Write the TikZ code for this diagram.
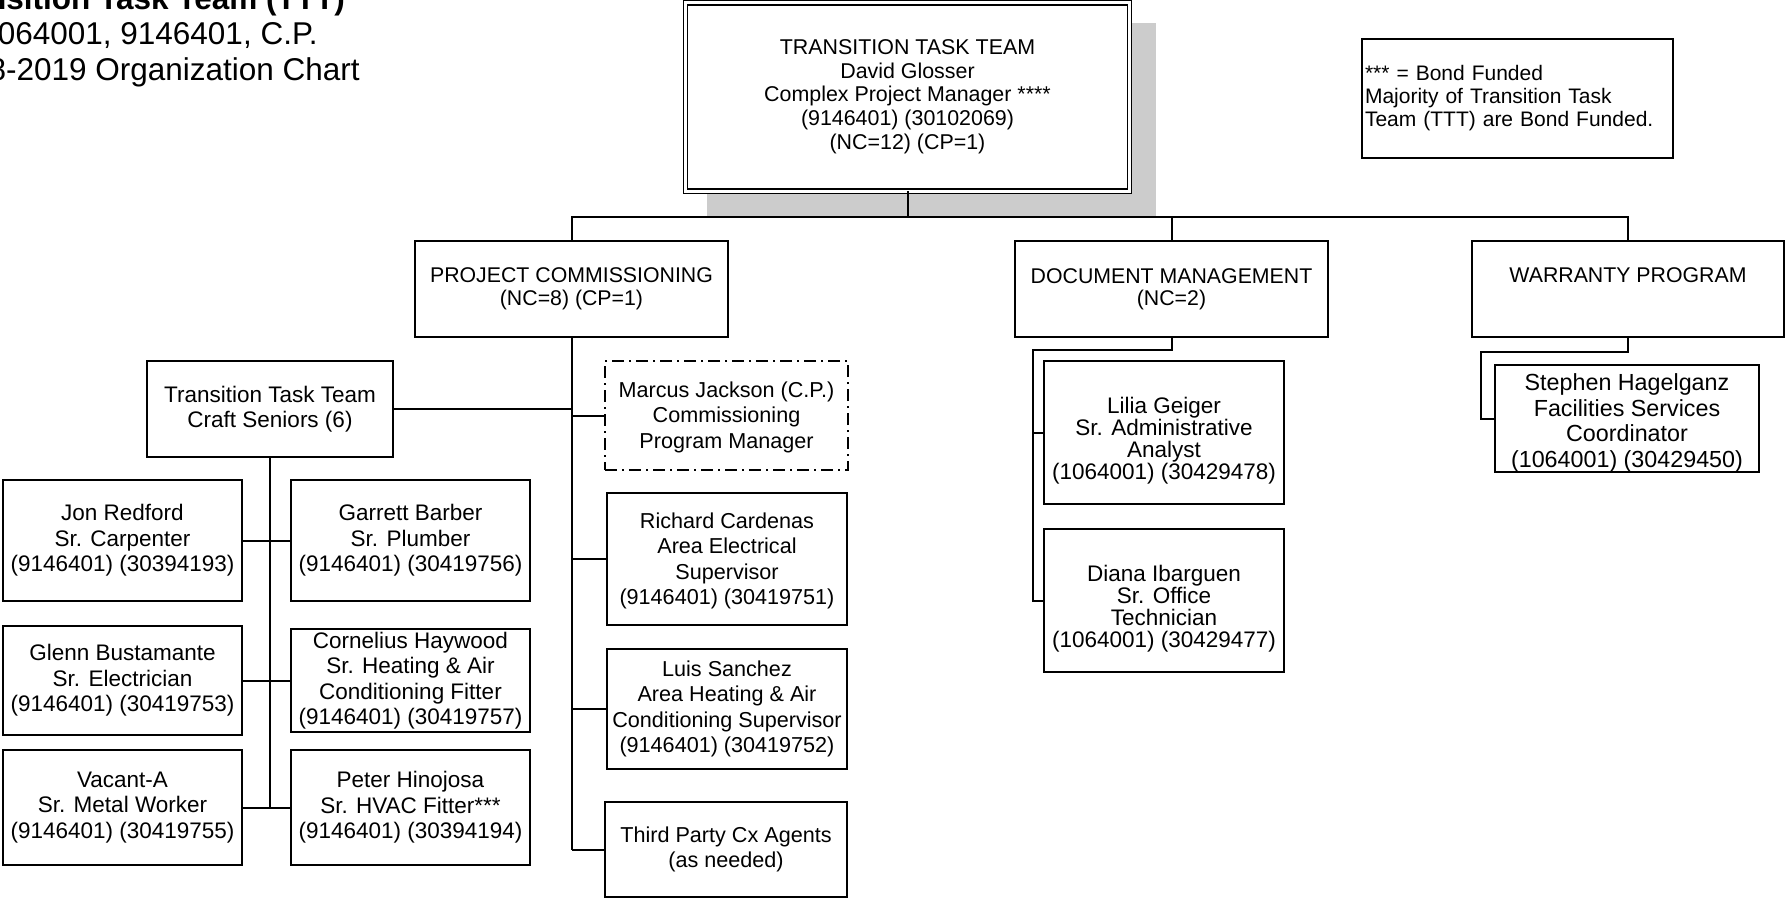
\documentclass[tikz,border=0pt]{standalone}
\usepackage{fontspec}
\setmainfont{Liberation Sans}

\tikzset{
  box/.style={draw, line width=1.5pt, inner sep=0pt, outer sep=0pt, align=center, fill=white,
              font=\fontsize{22.5}{25.5}\selectfont},
  mid/.style={box, font=\fontsize{21.6}{25.5}\selectfont},
  link/.style={line width=2pt},
  head/.style={anchor=base east, inner sep=0pt, font=\fontsize{31.5}{35}\selectfont},
}

\begin{document}
\begin{tikzpicture}[x=1pt,y=-1pt]
\useasboundingbox (0,0) rectangle (1785,899);

% heading, cut by the page edge
\node[head, font=\fontsize{31.5}{35}\selectfont\bfseries] (title) at (345,10) {Transition Task Team (TTT)};
\node[head] (funds) at (318,45) {1064001, 9146401, C.P.};
\node[head] (year) at (360,81) {2018-2019 Organization Chart};

% top
\fill[black!20] (707,23) rectangle (1156,217);
\node[box, double, double distance=3pt, line width=1.3pt, minimum width=444pt, minimum height=188pt,
      font=\fontsize{21.4}{23.8}\selectfont, text depth=5pt] (ttt) at (907.5,97)
  {TRANSITION TASK TEAM\\David Glosser\\Complex Project Manager ****\\(9146401) (30102069)\\(NC=12) (CP=1)};
\node[box, minimum width=311pt, minimum height=119pt, text width=305pt, inner xsep=3pt, align=left,
      font=\fontsize{21}{23}\selectfont] (legend) at (1517.5,98.5)
  {*** = Bond Funded\\Majority of Transition Task\\Team (TTT) are Bond Funded.};

% sections
\node[box, minimum width=313pt, minimum height=96pt, font=\fontsize{21.3}{22.5}\selectfont] (pc) at (571.5,289) {PROJECT COMMISSIONING\\(NC=8) (CP=1)};
\node[box, minimum width=313pt, minimum height=96pt, font=\fontsize{21.3}{22}\selectfont] (dm) at (1171.5,289) {DOCUMENT MANAGEMENT\\(NC=2)};
\node[box, minimum width=312pt, minimum height=96pt, font=\fontsize{21.3}{22}\selectfont, text depth=28pt] (wp) at (1628,289) {WARRANTY PROGRAM};

\coordinate (bus) at (907.5,217);
\draw[link] (ttt.south) -- (bus);
\draw[link] (pc.north) -- (pc.north |- bus) -- (wp.north |- bus) -- (wp.north);
\draw[link] (dm.north) -- (dm.north |- bus);

% project commissioning
\node[box, minimum width=246pt, minimum height=96pt] (craft) at (270,409) {Transition Task Team\\Craft Seniors (6)};
\node[mid, dash pattern=on 12pt off 5pt on 2pt off 5pt, minimum width=243pt, minimum height=109pt, text depth=1pt] (marcus) at (726.5,415.5)
  {Marcus Jackson (C.P.)\\Commissioning\\Program Manager};
\node[mid, minimum width=240pt, minimum height=132pt, text depth=1pt] (richard) at (727,559) {Richard Cardenas\\Area Electrical\\Supervisor\\(9146401) (30419751)};
\node[mid, minimum width=240pt, minimum height=120pt] (luis) at (727,709) {Luis Sanchez\\Area Heating \& Air\\Conditioning Supervisor\\(9146401) (30419752)};
\node[mid, minimum width=242pt, minimum height=95pt] (third) at (726,849.5) {Third Party Cx Agents\\(as needed)};

\draw[link] (pc.south) -- (pc.south |- third.west);
\draw[link] (craft.east) -- (craft.east -| pc.south);
\foreach \n in {marcus,richard,luis,third}
  \draw[link] (pc.south |- \n.west) -- (\n.west);

% craft seniors
\node[box, minimum width=239pt, minimum height=121pt] (jon) at (122.5,540.5) {Jon Redford\\Sr. Carpenter\\(9146401) (30394193)};
\node[box, minimum width=239pt, minimum height=121pt] (garrett) at (410.5,540.5) {Garrett Barber\\Sr. Plumber\\(9146401) (30419756)};
\node[box, minimum width=239pt, minimum height=109pt] (glenn) at (122.5,680.5) {Glenn Bustamante\\Sr. Electrician\\(9146401) (30419753)};
\node[box, minimum width=239pt, minimum height=103pt] (cornelius) at (410.5,680.5) {Cornelius Haywood\\Sr. Heating \& Air\\Conditioning Fitter\\(9146401) (30419757)};
\node[box, minimum width=239pt, minimum height=115pt] (vacant) at (122.5,807.5) {Vacant-A\\Sr. Metal Worker\\(9146401) (30419755)};
\node[box, minimum width=239pt, minimum height=115pt] (peter) at (410.5,807.5) {Peter Hinojosa\\Sr. HVAC Fitter***\\(9146401) (30394194)};

\draw[link] (craft.south) -- (craft.south |- vacant.east);
\draw[link] (jon.east) -- (garrett.west);
\draw[link] (glenn.east) -- (cornelius.west);
\draw[link] (vacant.east) -- (peter.west);

% document management
\node[box, minimum width=240pt, minimum height=143pt, font=\fontsize{22.5}{22}\selectfont, text height=99pt] (lilia) at (1164,432.5)
  {Lilia Geiger\\Sr. Administrative\\Analyst\\(1064001) (30429478)};
\node[box, minimum width=240pt, minimum height=143pt, font=\fontsize{22.5}{22}\selectfont, text height=98pt] (diana) at (1164,600.5)
  {Diana Ibarguen\\Sr. Office\\Technician\\(1064001) (30429477)};

\draw[link] (dm.south) -- ++(0,12.5) -| ([xshift=-11pt]diana.west) -- (diana.west);
\draw[link] ([xshift=-11pt]lilia.west) -- (lilia.west);

% warranty
\node[box, minimum width=264pt, minimum height=105pt, font=\fontsize{23.3}{25.5}\selectfont, text height=102.5pt] (stephen) at (1627,418.5)
  {Stephen Hagelganz\\Facilities Services\\Coordinator\\(1064001) (30429450)};

\draw[link] (wp.south) -- ++(0,15) -| ([xshift=-14pt]stephen.west) -- (stephen.west);
\end{tikzpicture}
\end{document}
